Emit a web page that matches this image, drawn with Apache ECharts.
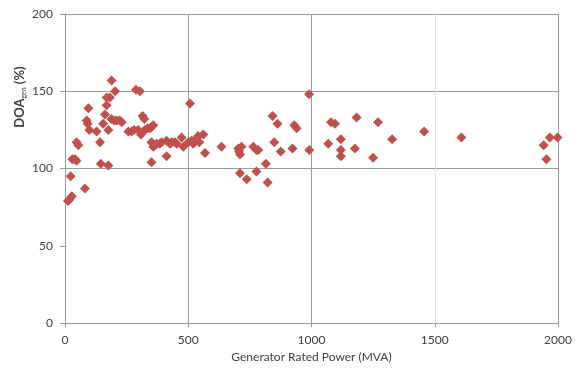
<!DOCTYPE html>
<html>
<head>
<meta charset="utf-8">
<script src="https://cdn.jsdelivr.net/npm/echarts@6/dist/echarts.min.js"></script>
<style>html,body{margin:0;padding:0;background:#fff;}#c{width:582px;height:369px;}</style>
</head>
<body>
<div id="c"></div>
<script>
// Generator rated power (MVA)
var power = [12,18,28,23,30,40,47,81,47,54,95,88,92,99,128,145,176,142,155,162,169,176,182,189,203,169,189,200,210,222,230,257,270,280,288,304,308,315,322,297,324,335,345,352,358,351,358,365,372,385,392,412,426,433,446,453,473,480,500,514,520,534,540,561,412,351,507,525,545,568,635,703,710,706,716,764,777,784,710,737,777,815,822,842,862,849,875,923,930,940,990,991,1079,1095,1183,1270,1457,1068,1119,1119,1119,1176,1250,1327,1608,1942,1953,1967,1998];
// DOA_gen (%)
var doa = [79,80,82,95,106,106,105,87,117,115,139,131,129,125,124,103,102,117,129,135,146,125,146,157,150,141,132,131,131,131,130,124,124,125,151,150,122,134,132,125,125,126,126,127,128,117,114,115,116,116,117,118,116,117,117,116,120,114,117,118,116,119,121,122,108,104,142,118,117,110,114,113,109,111,114,114,112,112,97,93,98,103,91,134,129,117,111,113,128,126,148,112,130,129,133,130,124,116,119,112,108,113,107,119,120,115,106,120,120];
var xTicks = [0,500,1000,1500,2000];
var yTicks = [0,50,100,150,200];

var pts = power.map(function(p,i){return [p, doa[i]];});
var font = 'Lato';
var chart = echarts.init(document.getElementById('c'), null, {renderer:'canvas'});
chart.setOption({
  animation:false,
  backgroundColor:'#fff',
  grid:{left:65,right:24,top:14,bottom:46,containLabel:false},
  xAxis:{
    type:'value',min:xTicks[0],max:xTicks[xTicks.length-1],interval:500,
    name:'Generator Rated Power (MVA)',nameLocation:'middle',nameGap:28,
    nameTextStyle:{fontFamily:font,fontSize:12,color:'#404040'},
    axisLine:{show:true,lineStyle:{color:'#9a9a9a',width:1}},
    axisTick:{show:true,length:4,lineStyle:{color:'#9a9a9a'}},
    axisLabel:{fontFamily:font,fontSize:12,color:'#404040',margin:11,formatter:function(v){return String(v);}},
    splitLine:{show:true,lineStyle:{color:['transparent','#9a9a9a','#9a9a9a','#e4e4e4','#9a9a9a'],width:1}}
  },
  yAxis:{
    type:'value',min:yTicks[0],max:yTicks[yTicks.length-1],interval:50,
    axisLine:{show:true,lineStyle:{color:'#9a9a9a',width:1}},
    axisTick:{show:true,length:5,lineStyle:{color:'#9a9a9a'}},
    axisLabel:{fontFamily:font,fontSize:12,color:'#404040',margin:12,formatter:function(v){return String(v);}},
    splitLine:{show:true,lineStyle:{color:['transparent','transparent','#9a9a9a','#9a9a9a','#9a9a9a'],width:1}}
  },
  graphic:[{
    type:'text',x:20,y:97,rotation:Math.PI/2,
    style:{
      text:'DOA{s|gen} (%)',
      rich:{s:{fontFamily:font,fontSize:7,fill:'#404040',padding:[8,0,0,0]}},
      fontFamily:font,fontSize:13,fontWeight:'bold',fill:'#404040',
      align:'center',verticalAlign:'middle'
    }
  }],
  series:[{
    type:'scatter',data:pts,symbol:'diamond',symbolSize:[10,10],
    itemStyle:{color:'#C0504D',opacity:1}
  }]
});
</script>
</body>
</html>
